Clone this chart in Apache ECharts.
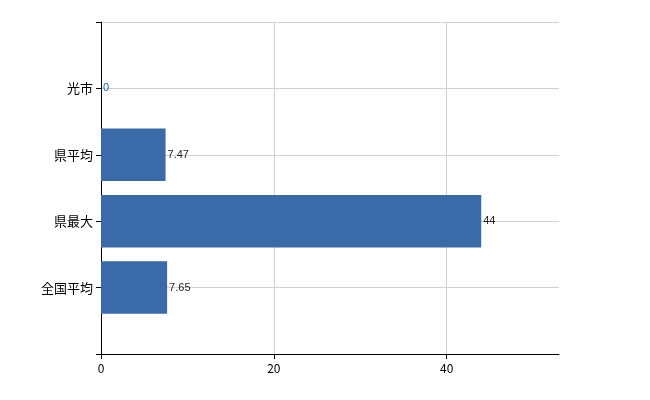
<!DOCTYPE html>
<html><head><meta charset="utf-8">
<script src="https://cdn.jsdelivr.net/npm/echarts@6/dist/echarts.min.js"></script>
<style>html,body{margin:0;padding:0;background:#fff}#c{width:650px;height:400px}</style>
</head><body><div id="c"></div>
<script>
const categories = ['全国平均', '県最大', '県平均', '光市'];
const values = [7.65, 44, 7.47, 0];
const xTicks = [0, 20, 40];

const chart = echarts.init(document.getElementById('c'));
const data = values.map((v, i) => [v, i + 1]);
chart.setOption({
  animation: false,
  grid: { left: 101, right: 91, top: 22, bottom: 46 },
  xAxis: {
    type: 'value', min: 0, max: 53, interval: 20,
    axisLine: { show: true, lineStyle: { color: '#000' } },
    axisTick: { show: true, lineStyle: { color: '#000' }, customValues: xTicks },
    axisLabel: { color: '#000', fontSize: 12, fontFamily: 'Noto Sans CJK JP', customValues: xTicks },
    splitLine: { show: true, lineStyle: { color: '#d0d0d8' } }
  },
  yAxis: {
    type: 'value', min: 0, max: 5, interval: 1,
    axisLine: { show: true, lineStyle: { color: '#000' } },
    axisTick: { show: true, lineStyle: { color: '#000' } },
    axisLabel: {
      color: '#000', fontSize: 13, fontFamily: 'Noto Sans CJK JP',
      formatter: v => categories[v - 1] || ''
    },
    splitLine: { show: true, lineStyle: { color: '#d0d0d8' } }
  },
  series: [{
    type: 'custom',
    data: data,
    encode: { x: 0, y: 1 },
    renderItem: (params, api) => {
      const v = api.value(0), c = api.value(1);
      const p0 = api.coord([0, c]);
      const p1 = api.coord([v, c]);
      const h = api.size([0, 1])[1] * 0.79;
      return {
        type: 'group',
        children: [
          { type: 'rect', shape: { x: p0[0], y: p0[1] - h / 2, width: p1[0] - p0[0], height: h },
            style: { fill: '#3a6aa8' } },
          { type: 'text', x: p1[0] + 2, y: p1[1],
            style: { text: String(v), fill: v === 0 ? '#1a5fb0' : '#222', fontSize: 11,
              fontFamily: 'Liberation Sans', verticalAlign: 'middle', align: 'left' } }
        ]
      };
    }
  }]
});
</script></body></html>
